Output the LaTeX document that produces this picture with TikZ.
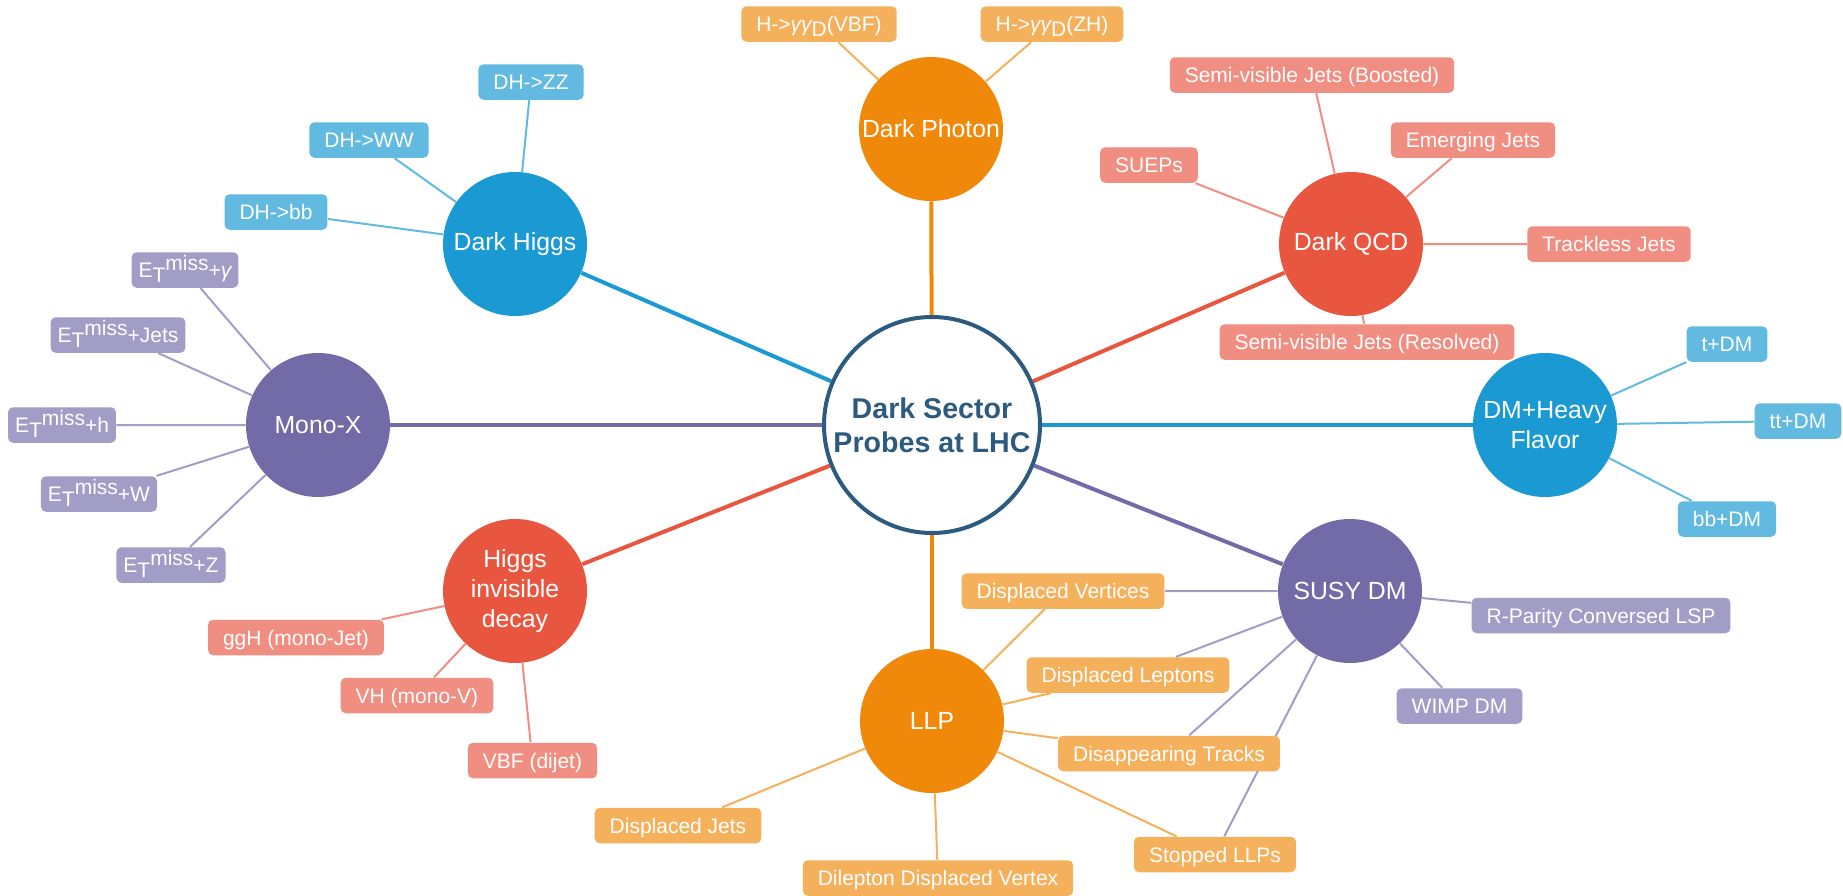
\documentclass[tikz,border=0pt]{standalone}
\usepackage{fontspec}
\setmainfont{Liberation Sans}
\usetikzlibrary{backgrounds}
\definecolor{corange}{HTML}{F0890A}
\definecolor{lorange}{HTML}{F5B05C}
\definecolor{cred}{HTML}{E85640}
\definecolor{lred}{HTML}{F08E82}
\definecolor{cblue}{HTML}{1A99D3}
\definecolor{lblue}{HTML}{62BAE0}
\definecolor{cpurple}{HTML}{736BA8}
\definecolor{lpurple}{HTML}{A29DC7}
\definecolor{cnavy}{HTML}{2C5B7F}
\newcommand{\ETm}[1]{E\raisebox{-2.5pt}[0pt][0pt]{T}\raisebox{3.5pt}[0pt][0pt]{miss}#1}
\newcommand{\Hgg}[1]{H->{\itshape γγ}\raisebox{-2.5pt}[0pt][0pt]{D}(#1)}
\begin{document}
\begin{tikzpicture}[x=0.5pt,y=-0.5pt,
  hub/.style={circle, minimum size=72pt, inner sep=0pt, text=white, align=center,
    font=\fontsize{12.4}{15}\selectfont},
  leaf/.style={rectangle, rounded corners=2.5pt, minimum height=17.75pt, inner xsep=7.5pt,
    inner ysep=0pt, text height=7.5pt, text depth=0pt, text=white,
    font=\fontsize{10.5}{12}\selectfont},
  ol/.style={leaf, fill=lorange}, rl/.style={leaf, fill=lred},
  bl/.style={leaf, fill=lblue}, pl/.style={leaf, fill=lpurple},
  etl/.style={pl, inner xsep=3.5pt},
  main/.style={line width=2pt},
  thin/.style={line width=1pt}]
\useasboundingbox (0,0) rectangle (1843,895);
% center
\node[circle, draw=cnavy, line width=2pt, fill=white, minimum size=108pt, inner sep=0pt,
  align=center, text=cnavy, font=\bfseries\fontsize{14.3}{17}\selectfont] (c) at (932,425)
  {Dark Sector\\Probes at LHC};
% hubs
\node[hub, fill=corange] (dp) at (931,129) {Dark Photon};
\node[hub, fill=cblue] (dh) at (515,244) {Dark Higgs};
\node[hub, fill=cpurple] (mx) at (318,425) {Mono-X};
\node[hub, fill=cred] (hi) at (515,591) {Higgs\\invisible\\decay};
\node[hub, fill=corange] (llp) at (932,721) {LLP};
\node[hub, fill=cpurple] (susy) at (1350,591) {SUSY DM};
\node[hub, fill=cblue] (hf) at (1545,425) {DM+Heavy\\Flavor};
\node[hub, fill=cred] (qcd) at (1351,244) {Dark QCD};
% dark photon leaves
\node[ol] (vbf) at (819,24) {\Hgg{VBF}};
\node[ol] (zh) at (1052,24) {\Hgg{ZH}};
% dark higgs leaves
\node[bl] (zz) at (531,82) {DH->ZZ};
\node[bl] (ww) at (369,140) {DH->WW};
\node[bl] (bb) at (276,212) {DH->bb};
% mono-x leaves
\node[etl] (mg) at (185,270) {\ETm{+{\itshape γ}}};
\node[etl] (mj) at (118,335) {\ETm{+Jets}};
\node[etl] (mh) at (62,425) {\ETm{+h}};
\node[etl] (mw) at (99,494) {\ETm{+W}};
\node[etl] (mz) at (171,565) {\ETm{+Z}};
% higgs invisible leaves
\node[rl] (ggh) at (296,637.5) {ggH (mono-Jet)};
\node[rl] (vh) at (417,695.5) {VH (mono-V)};
\node[rl] (vbfd) at (532.5,760.5) {VBF (dijet)};
% LLP / SUSY leaves
\node[ol] (dv) at (1063,591) {Displaced Vertices};
\node[ol] (dl) at (1128,675) {Displaced Leptons};
\node[ol] (dt) at (1169,753.5) {Disappearing Tracks};
\node[ol] (sl) at (1215,854.5) {Stopped LLPs};
\node[ol] (dj) at (678,825.5) {Displaced Jets};
\node[ol] (ddv) at (938,878) {Dilepton Displaced Vertex};
\node[pl] (rp) at (1601,615.5) {R-Parity Conversed LSP};
\node[pl] (wimp) at (1459.5,706) {WIMP DM};
% heavy flavor leaves
\node[bl] (tdm) at (1727,344) {t+DM};
\node[bl] (ttdm) at (1798,421) {tt+DM};
\node[bl] (bbdm) at (1727,519) {bb+DM};
% dark qcd leaves
\node[rl] (svb) at (1312,75) {Semi-visible Jets (Boosted)};
\node[rl] (ej) at (1473,140) {Emerging Jets};
\node[rl] (suep) at (1149,165) {SUEPs};
\node[rl] (tj) at (1609,244) {Trackless Jets};
\node[rl] (svr) at (1367,342) {Semi-visible Jets (Resolved)};
\begin{pgfonlayer}{background}
\draw[main, corange] (c) -- (dp);
\draw[main, cblue] (c) -- (dh);
\draw[main, cpurple] (c) -- (mx);
\draw[main, cred] (c) -- (hi);
\draw[main, corange] (c) -- (llp);
\draw[main, cpurple] (c) -- (susy);
\draw[main, cblue] (c) -- (hf);
\draw[main, cred] (c) -- (qcd);
\draw[thin, lorange] (dp) -- (vbf) (dp) -- (zh);
\draw[thin, lblue] (dh) -- (zz) (dh) -- (ww) (dh) -- (bb);
\draw[thin, lpurple] (mx) -- (mg) (mx) -- (mj) (mx) -- (mh) (mx) -- (mw) (mx) -- (mz);
\draw[thin, lred] (hi) -- (ggh) (hi) -- (vh) (hi) -- (vbfd);
\draw[thin, lorange] (llp) -- (dv) (llp) -- (dl) (llp) -- (dt) (llp) -- (sl) (llp) -- (dj) (llp) -- (ddv);
\draw[thin, lpurple] (susy) -- (dv) (susy) -- (dl) (susy) -- (dt) (susy) -- (sl) (susy) -- (rp) (susy) -- (wimp);
\draw[thin, lblue] (hf) -- (tdm) (hf) -- (ttdm) (hf) -- (bbdm);
\draw[thin, lred] (qcd) -- (svb) (qcd) -- (ej) (qcd) -- (suep) (qcd) -- (tj) (qcd) -- (svr);
\end{pgfonlayer}
\end{tikzpicture}
\end{document}
